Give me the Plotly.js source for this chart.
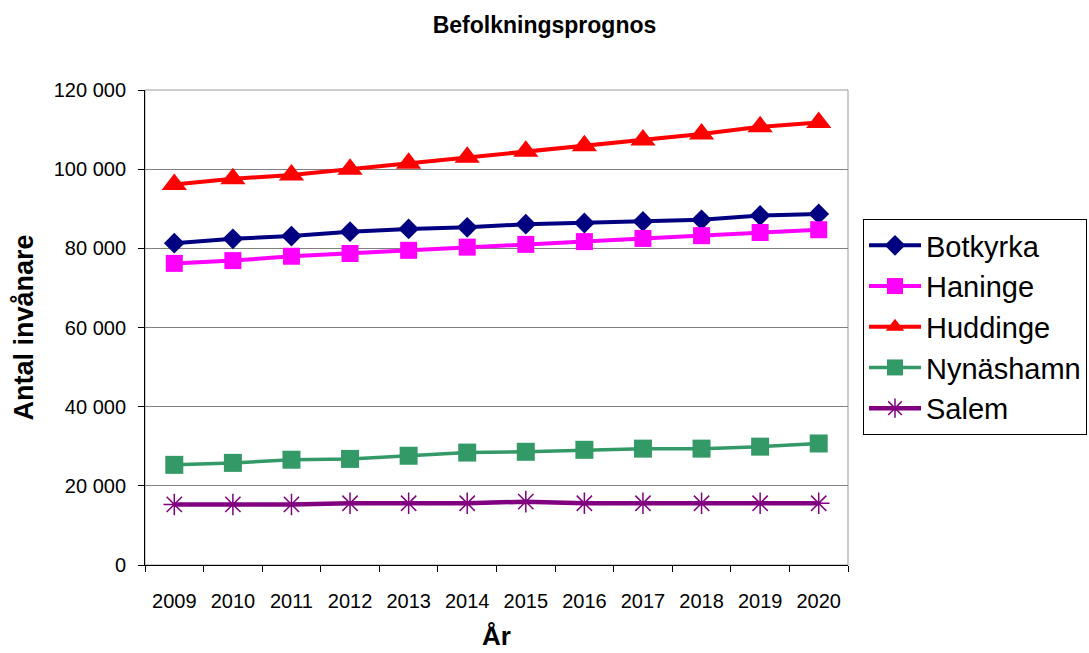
<!DOCTYPE html>
<html>
<head>
<meta charset="utf-8">
<script src="https://cdn.plot.ly/plotly-3.0.1.min.js"></script>
<style>html,body{margin:0;padding:0;background:#fff;}#chart{width:1089px;height:653px;}</style>
</head>
<body>
<div id="chart"></div>
<script>
const years = ["2009","2010","2011","2012","2013","2014","2015","2016","2017","2018","2019","2020"];
const botkyrka = [81300, 82400, 83100, 84200, 84900, 85300, 86100, 86400, 86800, 87200, 88300, 88700];
const haninge = [76200, 76900, 78000, 78700, 79500, 80300, 81000, 81700, 82500, 83200, 84000, 84700];
const huddinge = [96100, 97600, 98500, 100000, 101500, 103000, 104500, 105900, 107400, 108900, 110700, 111800];
const nynashamn = [25300, 25800, 26600, 26800, 27600, 28400, 28600, 29100, 29400, 29400, 29900, 30700];
const salem = [15300, 15300, 15300, 15600, 15600, 15600, 16000, 15600, 15600, 15600, 15600, 15600];

const seriesNames = ["Botkyrka","Haninge","Huddinge","Nynäshamn","Salem"];
const seriesData = [botkyrka, haninge, huddinge, nynashamn, salem];
const colors = ["#000080","#FF00FF","#FF0000","#339966","#800080"];
const symbols = ["diamond","square","triangle-up","square","asterisk-open"];
const sizes = [16, 17, 22, 18, 18];
const widths = [4, 4, 4, 3.5, 4.5];

const FONT = "Liberation Sans, Arial, sans-serif";

const traces = seriesNames.map((n, i) => ({
  type: "scatter",
  mode: "lines+markers",
  name: n,
  x: years,
  y: seriesData[i],
  line: {color: colors[i], width: widths[i]},
  marker: {
    symbol: symbols[i],
    size: sizes[i],
    color: colors[i],
    line: {color: colors[i], width: i === 4 ? 1.5 : 0}
  }
}));

const layout = {
  width: 1089,
  height: 653,
  margin: {l: 145, r: 241, t: 90, b: 88, autoexpand: false},
  paper_bgcolor: "#fff",
  plot_bgcolor: "#fff",
  separators: ", ",
  font: {family: FONT, color: "#000", size: 20},
  title: {
    text: "<b>Befolkningsprognos</b>",
    font: {family: FONT, size: 23, color: "#000"},
    xref: "container", x: 0.5, xanchor: "center",
    yref: "container", y: 1 - 25/653, yanchor: "middle"
  },
  xaxis: {
    type: "category",
    range: [-0.5, 11.5],
    tickson: "boundaries",
    ticks: "outside",
    ticklen: 6,
    tickcolor: "#000",
    showline: true,
    linecolor: "#000",
    linewidth: 1,
    showgrid: false,
    zeroline: false,
    automargin: false,
    ticklabelstandoff: 18,
    tickfont: {family: FONT, size: 20, color: "#000"},
    title: {text: "<b>År</b>", font: {family: FONT, size: 26, color: "#000"}, standoff: 15}
  },
  yaxis: {
    range: [0, 120000],
    tickvals: [0, 20000, 40000, 60000, 80000, 100000, 120000],
    tickformat: ",d",
    ticks: "outside",
    ticklen: 6,
    tickcolor: "#000",
    showline: true,
    linecolor: "#000",
    linewidth: 1,
    showgrid: true,
    gridcolor: "#808080",
    gridwidth: 1,
    zeroline: false,
    automargin: false,
    ticklabelstandoff: 8,
    tickfont: {family: FONT, size: 20, color: "#000"},
    title: {text: "<b>Antal invånare</b>", font: {family: FONT, size: 27, color: "#000"}, standoff: 12}
  },
  legend: {
    xref: "container",
    yref: "container",
    x: 863 / 1089,
    xanchor: "left",
    y: 1 - 219 / 653,
    yanchor: "top",
    bordercolor: "#000",
    borderwidth: 1,
    bgcolor: "#fff",
    font: {family: FONT, size: 29, color: "#000"},
    itemwidth: 52,
    tracegroupgap: 0
  },
  shapes: [{
    type: "rect", xref: "paper", yref: "paper", x0: 0, x1: 1, y0: 0, y1: 1,
    line: {color: "#999", width: 1}, layer: "below"
  }],
  showlegend: true
};

Plotly.newPlot("chart", traces, layout, {displayModeBar: false, staticPlot: true});
</script>
</body>
</html>
